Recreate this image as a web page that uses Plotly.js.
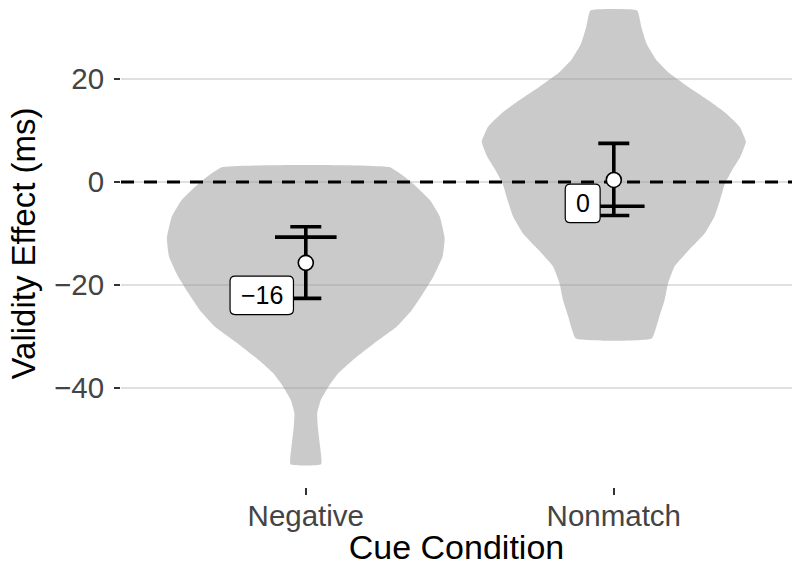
<!DOCTYPE html>
<html>
<head>
<meta charset="utf-8">
<script src="https://cdn.plot.ly/plotly-3.0.1.min.js"></script>
<style>
  html, body { margin: 0; padding: 0; background: #fff; }
  #chart { width: 792px; height: 566px; }
</style>
</head>
<body>
<div id="chart"></div>
<script>
// Cue conditions on the x axis
const categories = ['Negative', 'Nonmatch'];

// Condition means and 95% interval bounds (ms)
const means = [-15.7, 0.4];
const ciLow = [-22.6, -6.5];
const ciHigh = [-8.7, 7.5];
// Secondary reference estimate drawn as a wider bar
const refEstimate = [-10.7, -4.7];

// Violin density outlines: y values and half-widths (category units)
const negativeY = [2.85, -0.1, -3.5, -6.7, -10.9, -14.5, -18.4, -21.6, -24.9, -28.1, -31.3, -34.6, -37.1, -39.7, -42.3, -44.9, -47.5, -50.7, -54.8];
const negativeHalfWidth = [0.273, 0.344, 0.403, 0.435, 0.451, 0.444, 0.414, 0.381, 0.344, 0.295, 0.222, 0.152, 0.106, 0.074, 0.049, 0.037, 0.039, 0.045, 0.050];
const nonmatchY = [33.3, 30.2, 26.9, 23.7, 21.1, 18.5, 15.9, 13.3, 10.7, 7.8, 4.9, 2.3, -0.3, -3.5, -6.7, -10.0, -13.2, -16.4, -19.7, -22.9, -26.1, -30.4];
const nonmatchHalfWidth = [0.076, 0.089, 0.106, 0.138, 0.181, 0.241, 0.306, 0.365, 0.409, 0.429, 0.411, 0.384, 0.361, 0.345, 0.327, 0.295, 0.244, 0.197, 0.176, 0.165, 0.148, 0.123];

// Y axis ticks
const yTicks = [-40, -20, 0, 20];

// ---- styling ----
const FONT = '"Liberation Sans", Arial, Helvetica, sans-serif';
const xRange = [-0.6, -0.6 + 671 / 308];
const yRange = [-59.22, 35.34];
const violinFill = 'rgba(153,153,153,0.52)';
const labelOffsetX = [-0.143, -0.101];
const labelOffsetY = [-6.3, -4.55];
const labelFontSize = 25;

// each side of a violin is a smooth curve; the trimmed ends are flat
function violinTrace(center, ys, hw) {
  const x = [], y = [];
  for (let k = 0; k < ys.length; k++) { x.push(center + hw[k]); y.push(ys[k]); }
  for (let k = ys.length - 1; k >= 0; k--) { x.push(center - hw[k]); y.push(ys[k]); }
  x.push(x[0]); y.push(y[0]);
  return {
    type: 'scatter', mode: 'lines', x, y, fill: 'toself', fillcolor: violinFill,
    line: { width: 0, color: 'rgba(0,0,0,0)', shape: 'spline', smoothing: 0.35 },
    hoverinfo: 'skip', showlegend: false
  };
}

const traces = [
  violinTrace(0, negativeY, negativeHalfWidth),
  violinTrace(1, nonmatchY, nonmatchHalfWidth)
];

// horizontal dashed reference at zero
traces.push({
  type: 'scatter', mode: 'lines', x: xRange, y: [0, 0],
  line: { color: '#000', width: 2.8, dash: '13px,10px' },
  hoverinfo: 'skip', showlegend: false
});

// wider bars for the secondary estimate
const refX = [], refY = [];
refEstimate.forEach((v, i) => { refX.push(i - 0.1, i + 0.1, null); refY.push(v, v, null); });
traces.push({
  type: 'scatter', mode: 'lines', x: refX, y: refY,
  line: { color: '#000', width: 3.6 }, hoverinfo: 'skip', showlegend: false
});

// interval error bars
traces.push({
  type: 'scatter', mode: 'markers', x: [0, 1], y: means,
  marker: { size: 1, color: 'rgba(0,0,0,0)' },
  error_y: {
    type: 'data', symmetric: false,
    array: means.map((m, i) => ciHigh[i] - m),
    arrayminus: means.map((m, i) => m - ciLow[i]),
    width: 15.5, thickness: 3.6, color: '#000'
  },
  hoverinfo: 'skip', showlegend: false
});

// mean points
traces.push({
  type: 'scatter', mode: 'markers', x: [0, 1], y: means,
  marker: { size: 15, color: '#fff', line: { color: '#000', width: 1.6 } },
  hoverinfo: 'skip', showlegend: false
});

// rounded label boxes with rounded means
const ctx = document.createElement('canvas').getContext('2d');
ctx.font = labelFontSize + 'px ' + FONT;
function fmt(v) { const r = Math.round(v); return (r < 0 ? '\u2212' : '') + Math.abs(r); }
function roundedRect(w, h, r) {
  const x0 = -w / 2, x1 = w / 2, y0 = -h / 2, y1 = h / 2;
  return `M ${x0 + r},${y0} L ${x1 - r},${y0} Q ${x1},${y0} ${x1},${y0 + r} L ${x1},${y1 - r} Q ${x1},${y1} ${x1 - r},${y1} L ${x0 + r},${y1} Q ${x0},${y1} ${x0},${y1 - r} L ${x0},${y0 + r} Q ${x0},${y0} ${x0 + r},${y0} Z`;
}
const shapes = [], annotations = [];
means.forEach((m, i) => {
  const text = fmt(m);
  const w = ctx.measureText(text).width + 21;
  const lx = i + labelOffsetX[i], ly = m + labelOffsetY[i];
  shapes.push({
    type: 'path', xref: 'x', yref: 'y', xsizemode: 'pixel', ysizemode: 'pixel',
    xanchor: lx, yanchor: ly, path: roundedRect(w, 38.5, 5),
    fillcolor: '#fff', line: { color: '#000', width: 1.2 }, layer: 'above'
  });
  annotations.push({
    x: lx, y: ly, xref: 'x', yref: 'y', text, showarrow: false,
    font: { family: FONT, size: labelFontSize, color: '#000' },
    xanchor: 'center', yanchor: 'middle'
  });
});

const layout = {
  width: 792, height: 566,
  margin: { l: 121, r: 0, t: 0, b: 79 },
  paper_bgcolor: '#fff', plot_bgcolor: '#fff',
  font: { family: FONT },
  showlegend: false,
  xaxis: {
    range: xRange, tickvals: [0, 1], ticktext: categories,
    showgrid: false, zeroline: false, showline: false,
    ticks: 'outside', ticklen: 7, tickwidth: 1.5, tickcolor: '#333',
    ticklabelstandoff: -4,
    tickfont: { size: 29.5, color: '#444', family: FONT },
    title: { text: 'Cue Condition', font: { size: 34, color: '#000', family: FONT }, standoff: 5 },
    fixedrange: true
  },
  yaxis: {
    range: yRange, tickvals: yTicks,
    showgrid: true, gridcolor: '#E0E0E0', gridwidth: 1.1,
    zeroline: false, showline: false,
    ticks: 'outside', ticklen: 6, tickwidth: 1.5, tickcolor: '#333',
    ticklabelstandoff: 4,
    tickfont: { size: 29.5, color: '#444', family: FONT },
    title: { text: 'Validity Effect (ms)', font: { size: 33, color: '#000', family: FONT }, standoff: 8 },
    fixedrange: true
  },
  shapes, annotations
};

Plotly.newPlot('chart', traces, layout, { displayModeBar: false, staticPlot: true });
</script>
</body>
</html>
